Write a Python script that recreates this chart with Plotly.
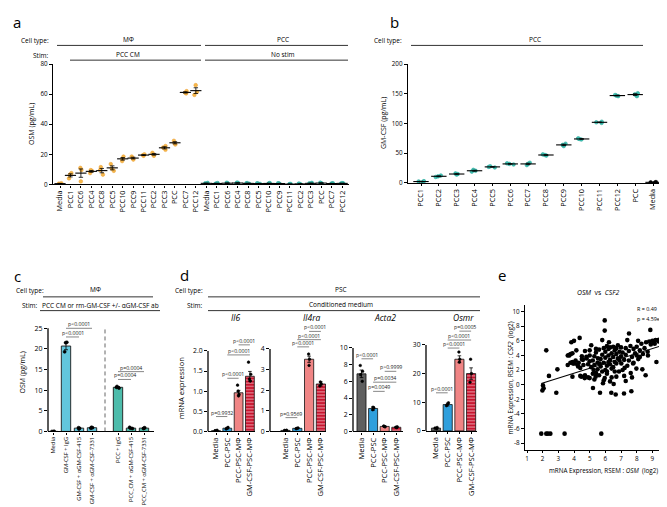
import numpy as np
import plotly.graph_objects as go

W, H = 667, 507
FONT = "Open Sans"

# ===================== DATA =====================
# ---- panel a : OSM (pg/mL), MΦ stimulated with PCC CM, and PCC alone ----
a_categories = ["Media", "PCC1", "PCC6", "PCC4", "PCC8", "PCC5", "PCC10", "PCC9",
                "PCC11", "PCC2", "PCC3", "PCC", "PCC7", "PCC12"]
a_mphi_pcc_cm = [
    [0.2, 0.5, 0.8], [4.0, 6.5, 7.5], [2.0, 9.5, 11.0], [7.5, 9.0, 9.5],
    [6.5, 9.5, 11.5], [9.0, 10.5, 13.5], [15.5, 17.0, 18.5], [16.5, 17.5, 18.5],
    [19.0, 19.5, 20.0], [19.0, 20.0, 21.0], [23.0, 24.5, 25.5], [26.5, 27.5, 29.0],
    [60.5, 61.0, 62.0], [59.5, 61.5, 66.0],
]
a_pcc_no_stim = [
    [0.4, 0.7, 1.0], [0.3, 0.6, 0.9], [0.5, 0.8, 1.1], [0.6, 0.9, 1.2],
    [0.4, 0.7, 0.9], [0.3, 0.5, 0.8], [0.4, 0.6, 0.9], [0.3, 0.6, 0.8],
    [0.1, 0.2, 0.3], [0.2, 0.3, 0.5], [0.4, 0.7, 1.0], [0.6, 0.9, 1.1],
    [0.3, 0.6, 0.8], [0.4, 0.7, 0.9],
]
a_yticks = [0, 20, 40, 60, 80]

# ---- panel b : GM-CSF (pg/mL) from PCC lines ----
b_categories = ["PCC1", "PCC2", "PCC3", "PCC4", "PCC5", "PCC6", "PCC7", "PCC8",
                "PCC9", "PCC10", "PCC11", "PCC12", "PCC", "Media"]
b_gmcsf = [
    [1.5, 2.5, 3.0], [10.0, 11.0, 12.5], [14.0, 15.0, 16.0], [19.0, 20.5, 22.0],
    [26.0, 27.0, 28.0], [31.0, 32.0, 33.0], [30.0, 32.0, 34.0], [46.0, 47.0, 48.0],
    [62.0, 64.0, 66.0], [73.0, 74.0, 75.0], [101.0, 102.0, 103.0], [146.0, 147.0, 148.0],
    [146.0, 149.0, 151.0], [0.5, 1.0, 1.5],
]
b_yticks = [0, 50, 100, 150, 200]

# ---- panel c : OSM (pg/mL) with αGM-CSF antibodies ----
c_categories = ["Media", "GM-CSF + IgG", "GM-CSF + αGM-CSF-415", "GM-CSF + αGM-CSF-7331",
                "PCC + IgG", "PCC_CM + αGM-CSF-415", "PCC_CM + αGM-CSF-7331"]
c_means = [0.0, 20.7, 0.8, 0.9, 10.7, 0.8, 0.8]
c_sem = [0.0, 0.9, 0.1, 0.15, 0.2, 0.1, 0.1]
c_points = [[0.0, 0.0, 0.0], [19.3, 21.5, 21.6], [0.6, 0.8, 0.9], [0.8, 0.9, 1.0],
            [10.5, 10.7, 10.9], [0.7, 0.8, 1.0], [0.7, 0.8, 0.9]]
c_yticks = [0, 5, 10, 15, 20, 25]
c_pvalues = ["p<0.0001", "p<0.0001", "p=0.0004", "p=0.0004"]

# ---- panel d : mRNA expression in PSC ----
d_conditions = ["Media", "PCC-PSC", "PCC-PSC-MΦ", "GM-CSF-PSC-MΦ"]
d_genes = ["Il6", "Il4ra", "Acta2", "Osmr"]
il6_means = [0.02, 0.08, 0.96, 1.37]
il6_sem = [0.01, 0.02, 0.06, 0.12]
il6_points = [[0.01, 0.02, 0.03], [0.06, 0.08, 0.10], [0.88, 0.92, 1.0, 1.15], [1.25, 1.30, 1.42, 1.72]]
il6_pvalues = ["p=0.9932", "p<0.0001", "p<0.0001", "p<0.0001"]
il4ra_means = [0.05, 0.15, 3.5, 2.3]
il4ra_sem = [0.01, 0.02, 0.15, 0.1]
il4ra_points = [[0.04, 0.05, 0.06], [0.13, 0.15, 0.17], [3.2, 3.5, 3.75], [2.2, 2.3, 2.4]]
il4ra_pvalues = ["p=0.9569", "p<0.0001", "p<0.0001", "p<0.0001"]
acta2_means = [6.9, 2.75, 0.6, 0.5]
acta2_sem = [0.45, 0.2, 0.05, 0.05]
acta2_points = [[6.0, 6.8, 7.2, 7.9], [2.6, 2.8, 2.9], [0.55, 0.6, 0.65], [0.45, 0.5, 0.55]]
acta2_pvalues = ["p<0.0001", "p>0.9999", "p=0.0034", "p=0.0049"]
osmr_means = [1.0, 9.2, 25.0, 20.0]
osmr_sem = [0.2, 0.5, 1.2, 2.0]
osmr_points = [[0.8, 1.0, 1.2], [8.8, 9.2, 9.8], [24.0, 25.0, 27.5], [17.0, 20.0, 25.0]]
osmr_pvalues = ["p<0.0001", "p<0.0001", "p<0.0001", "p=0.0005"]

# ---- panel e : OSM vs CSF2 (log2 RSEM) ----
e_osm = [1.91, 2.23, 2.34, 2.49, 3.40, 5.74, 2.23, 2.40, 2.94, 2.02, 1.98, 2.06, 2.87,
         3.90, 3.60, 3.70, 3.83, 4.36, 4.15, 3.77, 3.94, 4.26, 4.47, 4.68, 4.79, 4.57,
         5.00, 5.10, 5.21, 5.25, 5.38, 5.40, 5.66, 5.96, 5.96, 5.80, 6.23, 5.85, 5.96,
         6.10, 6.30, 6.38, 6.66, 6.53, 7.19, 7.66, 7.51, 7.40, 8.09, 8.87, 9.26, 9.36,
         9.15, 8.72, 8.57, 8.36, 7.98, 7.77, 7.62, 7.23, 7.02, 6.87, 6.70, 5.64, 5.53,
         5.2, 5.3, 5.4, 5.5, 5.6, 5.7, 5.8, 5.9, 5.9, 6.0, 6.0, 6.1, 6.1, 6.2, 6.2, 6.3,
         6.3, 6.4, 6.4, 6.5, 6.5, 6.6, 6.6, 6.7, 6.7, 6.8, 6.8, 6.9, 7.0, 7.0, 7.1, 7.2,
         7.3, 7.3, 7.4, 7.5, 7.6, 7.7, 7.8, 7.9, 8.0, 8.1, 8.2, 8.3, 8.4, 8.5, 8.6, 8.7,
         8.8, 8.9, 9.0, 9.1, 9.2, 9.4, 9.5,
         4.8, 4.9, 5.0, 5.0, 5.1, 5.2, 5.3, 5.4, 5.5, 5.6, 5.7, 5.8, 5.9, 6.0, 6.1, 6.2,
         6.3, 6.4, 6.5, 6.6, 6.7, 6.9, 7.1, 7.2, 7.3, 7.5, 7.7, 7.8, 8.0, 8.2,
         3.8, 3.9, 4.0, 4.1, 4.2, 4.3, 4.4, 4.5, 4.6, 4.7, 3.9, 4.0, 4.5, 4.7, 4.4, 3.7,
         3.6, 4.9, 5.0, 5.3]
e_csf2 = [-6.7, -6.7, -6.7, -6.7, -6.7, -6.7, 4.7, 1.2, 2.1, -0.1, -0.8, -0.5, -1.1,
          1.1, 2.7, 4.0, 5.8, 6.4, 4.7, 3.0, 2.9, 2.5, 1.1, 0.9, 3.8, 3.4,
          4.7, 5.4, -0.45, 2.0, 1.1, 1.6, -1.1, 8.8, 7.4, 6.1, 5.8, 0.2, 0.9,
          1.8, 0.45, -1.1, -1.35, 0.1, -1.2, -0.9, 7.0, 6.1, 6.0, 7.5, 3.1, 6.1,
          5.6, 4.0, 1.3, 2.1, 2.2, 2.9, 1.6, 2.3, 2.9, 1.8, 1.1, 2.9, 3.6,
          3.3, 3.9, 4.4, 3.0, 4.8, 3.5, 4.1, 5.0, 3.0, 4.5, 3.7, 5.3, 2.6, 4.0, 4.9, 3.4,
          5.1, 4.3, 2.2, 5.2, 3.8, 4.7, 3.1, 5.0, 4.2, 3.6, 5.4, 4.5, 3.9, 5.1, 4.4, 3.4,
          5.0, 4.1, 2.6, 4.6, 5.3, 3.8, 4.9, 4.3, 5.2, 3.5, 4.7, 5.6, 4.2, 5.0, 5.8, 4.5,
          5.9, 5.5, 6.0, 5.8, 6.1, 5.9, 6.2,
          3.6, 2.8, 3.2, 4.0, 2.4, 1.5, 2.7, 4.9, 2.1, 1.3, 2.5, 1.8, 0.6, 2.0, 1.5, 3.1,
          2.8, 1.0, 2.4, 1.8, 2.9, 3.3, 2.0, 1.2, 0.5, 3.3, 1.0, 3.0, 4.0, 3.8,
          4.2, 3.1, 2.9, 3.3, 2.8, 3.0, 2.3, 3.5, 2.7, 1.3, 4.3, 6.0, 3.9, 4.6, 1.2, 4.1,
          4.0, 1.0, 0.9, 0.7]
e_stats = ["R = 0.49", "p = 4.59e-12"]

# ===================== STYLE / LAYOUT HELPERS =====================
ORANGE = "#f6b84a"
TEAL = "#3fc1b3"
C_GM = "#63c6dc"
C_PCC = "#4dbcab"
D_COLORS = ["#5f5f5f", "#2f9fdc", "#f08585", "#c8142e"]


def fx(p):
    return p / W


def fy(p):
    return 1 - p / H


fig = go.Figure()
layout = dict(width=W, height=H, margin=dict(l=0, r=0, t=0, b=0), autosize=False,
              paper_bgcolor="white", plot_bgcolor="white", showlegend=False,
              font=dict(family=FONT, color="black", size=7))
shapes, annots = [], []


def ref(n):
    return ("x" if n == 1 else f"x{n}"), ("y" if n == 1 else f"y{n}")


def axes(n, xl, xr, xrange, y0px, scale, yrange, yticks, xticks, xtext,
         xfont=7.5, yfont=6.5, ytext=None, yline_top=None, xtickangle=-90):
    xk = "xaxis" if n == 1 else f"xaxis{n}"
    yk = "yaxis" if n == 1 else f"yaxis{n}"
    xr_, yr_ = ref(n)
    top_px = y0px - yrange[1] * scale
    bot_px = y0px - yrange[0] * scale
    layout[xk] = dict(domain=[fx(xl), fx(xr)], range=xrange, anchor=yr_,
                      showline=True, linecolor="black", linewidth=1.3, mirror=False,
                      ticks="outside", ticklen=2, tickwidth=0.8, tickcolor="black",
                      showgrid=False, zeroline=False, tickvals=xticks, ticktext=xtext,
                      tickangle=xtickangle, tickfont=dict(size=xfont, family=FONT),
                      fixedrange=True)
    layout[yk] = dict(domain=[fy(bot_px), fy(top_px)], range=yrange, anchor=xr_,
                      showline=yline_top is None, linecolor="black", linewidth=1.3,
                      ticks="outside", ticklen=3, tickwidth=0.8, tickcolor="black",
                      showgrid=False, zeroline=False, tickvals=yticks,
                      ticktext=ytext if ytext is not None else [str(v) for v in yticks],
                      tickfont=dict(size=yfont, family=FONT), fixedrange=True)
    if yline_top is not None:
        shapes.append(dict(type="line", xref=f"{xr_} domain", yref=yr_, x0=0, x1=0,
                           y0=yrange[0], y1=yline_top,
                           line=dict(color="black", width=1.3)))


def txt(x, y, s, size=7, xanchor="center", angle=0, yanchor="middle"):
    annots.append(dict(xref="paper", yref="paper", x=fx(x), y=fy(y), text=s,
                       showarrow=False, xanchor=xanchor, yanchor=yanchor,
                       textangle=angle, font=dict(size=size, family=FONT, color="black")))


def hline(x0, x1, y, width=1.0, color="#333333"):
    shapes.append(dict(type="line", xref="paper", yref="paper", x0=fx(x0), x1=fx(x1),
                       y0=fy(y), y1=fy(y), line=dict(color=color, width=width)))


def bracket(n, i, j, y, text, size=5.2):
    xr_, yr_ = ref(n)
    shapes.append(dict(type="line", xref=xr_, yref=yr_, x0=i, x1=j, y0=y, y1=y,
                       line=dict(color="#555555", width=0.7)))
    annots.append(dict(xref=xr_, yref=yr_, x=(i + j) / 2, y=y, text=text, showarrow=False,
                       xanchor="center", yanchor="bottom", yshift=-2,
                       font=dict(size=size, family=FONT, color="#222222")))


def strip(n, xs, groups, color, size=3.5, line_color=None, jitter=0.6, width=0.55):
    xr_, yr_ = ref(n)
    X, Y = [], []
    for x, g in zip(xs, groups):
        X += [x] * len(g)
        Y += list(g)
    fig.add_trace(go.Box(x=X, y=Y, boxpoints="all", jitter=jitter, pointpos=0,
                         width=width, fillcolor="rgba(0,0,0,0)",
                         line=dict(color="rgba(0,0,0,0)", width=0),
                         marker=dict(color=color, size=size,
                                     line=dict(color=line_color or color, width=0.6)),
                         xaxis=xr_, yaxis=yr_, hoverinfo="skip"))


def mean_sem(n, xs, groups, mark=9):
    xr_, yr_ = ref(n)
    means = [float(np.mean(g)) for g in groups]
    sems = [float(np.std(g, ddof=1) / np.sqrt(len(g))) for g in groups]
    fig.add_trace(go.Scatter(x=xs, y=means, mode="markers", cliponaxis=False,
                             marker=dict(symbol="line-ew", size=mark,
                                         line=dict(color="black", width=1.1)),
                             error_y=dict(type="data", array=sems, color="black",
                                          thickness=0.8, width=2.2),
                             xaxis=xr_, yaxis=yr_, hoverinfo="skip"))


# ===================== PANEL a =====================
n_a = len(a_categories)
a_x1 = list(range(n_a))
a_x2 = list(range(n_a, 2 * n_a))
a_step = 10.45
axes(1, 45, 341, [(45 - 52) / a_step, (341 - 52) / a_step], 174.5, (174.5 - 52) / 80,
     [0, 80], a_yticks, a_x1 + a_x2, a_categories + a_categories, xfont=7.3, yfont=6.3)
strip(1, a_x1, a_mphi_pcc_cm, ORANGE, size=3.6, line_color="#eca23a")
strip(1, a_x2, a_pcc_no_stim, TEAL, size=3.6, line_color="#2aa99c")
mean_sem(1, a_x1, a_mphi_pcc_cm, mark=8)
mean_sem(1, a_x2, a_pcc_no_stim, mark=8)

txt(9, 9, "a", size=15)
txt(43, 28, "Cell type:", size=6.5, xanchor="right")
txt(43, 43.5, "Stim:", size=6.5, xanchor="right")
txt(120, 27, "MΦ", size=6.5)
txt(275, 27, "PCC", size=6.5)
txt(120, 42.5, "PCC CM", size=6.5)
txt(275, 42.5, "No stim", size=6.5)
hline(49, 193, 33)
hline(197, 340, 33)
hline(62, 193, 48)
hline(197, 340, 48)
txt(24, 113, "OSM (pg/mL)", size=7, angle=-90)

# ===================== PANEL b =====================
n_b = len(b_categories)
b_x = list(range(n_b))
b_step = 17.85
axes(2, 400, 658, [(400 - 413) / b_step, (658 - 413) / b_step], 173, (173 - 52) / 200,
     [0, 200], b_yticks, b_x, b_categories, xfont=7.3, yfont=6.3)
strip(2, b_x[:-1], b_gmcsf[:-1], TEAL, size=3.6, line_color="#2aa99c", width=0.7)
strip(2, b_x[-1:], b_gmcsf[-1:], "black", size=3.6, width=0.7)
mean_sem(2, b_x, b_gmcsf, mark=11)

txt(386, 9, "b", size=15)
txt(396, 28, "Cell type:", size=6.5, xanchor="right")
txt(527, 27, "PCC", size=6.5)
hline(403, 635, 33)
txt(375, 112, "GM-CSF (pg/mL)", size=7, angle=-90)

# ===================== PANEL c =====================
c_slots = [0, 1, 2, 3, 5, 6, 7]
c_step = 13.0
axes(3, 40, 146, [(40 - 45) / c_step, (146 - 45) / c_step], 426, 4.2, [0, 26.3],
     c_yticks, c_slots, c_categories, xfont=5.8, yfont=7, yline_top=25)
c_colors = ["#9adbe8", C_GM, C_GM, C_GM, C_PCC, C_PCC, C_PCC]
fig.add_trace(go.Bar(x=c_slots, y=c_means, width=0.72,
                     marker=dict(color=c_colors, line=dict(color="#1a1a1a", width=0.9)),
                     error_y=dict(type="data", array=c_sem, color="black", thickness=0.8, width=2),
                     xaxis="x3", yaxis="y3", hoverinfo="skip"))
strip(3, c_slots, c_points, "black", size=3, jitter=0.5, width=0.5)
shapes.append(dict(type="line", xref="x3", yref="y3", x0=4, x1=4, y0=0, y1=25,
                   line=dict(color="#555555", width=0.9, dash="4px,3px")))
bracket(3, c_slots[1], c_slots[3], 25.0, c_pvalues[0])
bracket(3, c_slots[1], c_slots[2], 22.9, c_pvalues[1])
bracket(3, c_slots[4], c_slots[6], 14.5, c_pvalues[2])
bracket(3, c_slots[4], c_slots[5], 12.6, c_pvalues[3])

txt(9, 268, "c", size=15)
txt(38, 283, "Cell type:", size=6.5, xanchor="right")
txt(87, 282, "MΦ", size=6.5)
hline(35, 145, 289)
txt(12, 297.5, "Stim:", size=6.5, xanchor="left")
txt(92, 297.5, "PCC CM or rm-GM-CSF +/- αGM-CSF ab", size=6.5)
hline(32, 152, 303)
txt(15, 366, "OSM (pg/mL)", size=7, angle=-90)

# ===================== PANEL d =====================
d_x = list(range(len(d_conditions)))
d_panels = [
    # n, xl, xr, first-bar px, step, y0px, scale, yrange, ticks, ticktext, axis top
    (4, 200, 247, 208.0, 11.3, 426, 41.0, [0, 2.35], [0, 0.5, 1.0, 1.5, 2.0],
     ["0.0", "0.5", "1.0", "1.5", "2.0"], 2.0, il6_means, il6_sem, il6_points),
    (5, 262, 318, 277.5, 11.8, 426, 21.0, [0, 5.1], [0, 1, 2, 3, 4],
     ["0", "1", "2", "3", "4"], 4, il4ra_means, il4ra_sem, il4ra_points),
    (6, 345, 395, 353.5, 11.6, 426, 8.5, [0, 10.3], [0, 2, 4, 6, 8, 10],
     ["0", "2", "4", "6", "8", "10"], 10, acta2_means, acta2_sem, acta2_points),
    (7, 418, 469, 428.0, 11.7, 425.5, 2.92, [0, 36.5], [0, 10, 20, 30],
     ["0", "10", "20", "30"], 30, osmr_means, osmr_sem, osmr_points),
]
for (n, xl, xr, b0, st, y0px, sc, yrg, ytv, ytt, ytop, means, sem, pts) in d_panels:
    axes(n, xl, xr, [(xl - b0) / st, (xr - b0) / st], y0px, sc, yrg, ytv, d_x,
         d_conditions, xfont=7.6, yfont=6.8, ytext=ytt, yline_top=ytop)
    xr_, yr_ = ref(n)
    fig.add_trace(go.Bar(x=d_x, y=means, width=0.78,
                         marker=dict(color=D_COLORS, line=dict(color="#111111", width=0.8),
                                     pattern=dict(shape=["", "", "", "-"], fgcolor="black",
                                                  size=3.2, solidity=0.35)),
                         error_y=dict(type="data", array=sem, color="black",
                                      thickness=0.8, width=1.8),
                         xaxis=xr_, yaxis=yr_, hoverinfo="skip"))
    strip(n, d_x, pts, "black", size=2.6, jitter=0.5, width=0.5)

bracket(4, 0, 1, 0.37, il6_pvalues[0])
bracket(4, 1, 2, 1.32, il6_pvalues[1])
bracket(4, 1, 3, 1.90, il6_pvalues[2])
bracket(4, 2, 3, 2.15, il6_pvalues[3])
bracket(5, 0, 1, 0.67, il4ra_pvalues[0])
bracket(5, 1, 2, 4.10, il4ra_pvalues[1])
bracket(5, 1, 3, 4.45, il4ra_pvalues[2])
bracket(5, 2, 3, 4.85, il4ra_pvalues[3])
bracket(6, 0, 1, 8.7, acta2_pvalues[0])
bracket(6, 2, 3, 7.2, acta2_pvalues[1])
bracket(6, 1, 3, 5.9, acta2_pvalues[2])
bracket(6, 1, 2, 4.8, acta2_pvalues[3])
bracket(7, 0, 1, 13.3, osmr_pvalues[0])
bracket(7, 1, 2, 28.9, osmr_pvalues[1])
bracket(7, 1, 3, 31.7, osmr_pvalues[2])
bracket(7, 2, 3, 34.8, osmr_pvalues[3])

txt(176, 267, "d", size=15)
txt(197, 283, "Cell type:", size=6.5, xanchor="right")
txt(197, 298, "Stim:", size=6.5, xanchor="right")
txt(333, 282, "PSC", size=6.5)
txt(333, 297, "Conditioned medium", size=6.5)
hline(200, 472, 289)
hline(200, 472, 303)
for g, gx in zip(d_genes, [227, 303, 377, 455]):
    txt(gx, 310, f"<i>{g}</i>", size=8.5)
txt(173, 382, "mRNA expression", size=7.5, angle=-90)

# ===================== PANEL e =====================
e_step = 15.67
y0e = 378.4
se = 7.44
axes(8, 517, 667, [1 + (517 - 519) / e_step, 1 + (667 - 519) / e_step], y0e, se,
     [(y0e - 445) / se, (y0e - 297) / se], list(range(-8, 11, 2)), list(range(1, 11)),
     [str(v) for v in range(1, 11)], xfont=6.3, yfont=6.3, xtickangle=0)
fig.add_trace(go.Scatter(x=e_osm, y=e_csf2, mode="markers",
                         marker=dict(color="black", size=4.6),
                         xaxis="x8", yaxis="y8", hoverinfo="skip"))
slope, icpt = np.polyfit(e_osm, e_csf2, 1)
ex = np.array([min(e_osm), max(e_osm)])
fig.add_trace(go.Scatter(x=ex, y=slope * ex + icpt, mode="lines",
                         line=dict(color="black", width=1.1),
                         xaxis="x8", yaxis="y8", hoverinfo="skip"))

txt(494, 267, "e", size=15)
txt(590, 285, "<i>OSM</i>  vs  <i>CSF2</i>", size=6.8)
txt(627, 301, e_stats[0], size=5.4, xanchor="left")
txt(627, 312, e_stats[1], size=5.4, xanchor="left")
txt(595, 466, "mRNA Expression, RSEM : <i>OSM</i>  (log2)", size=6.3)
txt(502, 372, "mRNA Expression, RSEM : <i>CSF2</i>  (log2)", size=6.5, angle=-90)

layout["shapes"] = shapes
layout["annotations"] = annots
fig.update_layout(**layout)
fig.write_html("out.html")
